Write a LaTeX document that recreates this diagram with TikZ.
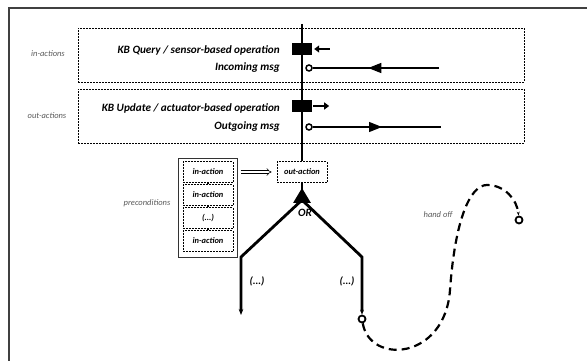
\documentclass[tikz,border=0pt]{standalone}
\usepackage{fontspec}
\setmainfont{Carlito}
\usetikzlibrary{arrows.meta,decorations.markings}

\tikzset{
  frame/.style={draw=black!75, line width=1.5pt},
  lbl/.style={font=\fontsize{11.2}{13}\selectfont\bfseries\itshape, inner sep=0pt},
  side/.style={font=\fontsize{8.5}{10}\selectfont\itshape, text=black!65, inner sep=0pt},
  actbox/.style={draw, dash pattern=on 2pt off 1pt, line width=0.8pt,
    minimum width=446pt, minimum height=54pt, inner sep=0pt},
  smallbox/.style={draw, dash pattern=on 2pt off 1pt, line width=0.8pt,
    minimum width=50pt, minimum height=21pt, inner sep=0pt,
    font=\fontsize{8.4}{10}\selectfont\bfseries\itshape},
  prebox/.style={draw=black!80, line width=1pt, minimum width=59pt,
    minimum height=99pt, inner sep=0pt},
  block/.style={fill, minimum width=20pt, minimum height=12pt, inner sep=0pt},
  tick/.style={line width=2.5pt, >={Triangle[length=5pt,width=7pt]}},
  timeline/.style={line width=2.8pt},
  port/.style={circle, draw, fill=white, line width=1.5pt, minimum size=6pt, inner sep=0pt},
  msg/.style={line width=1.4pt},
  midarrow/.style={postaction={decorate}, decoration={markings,
    mark=at position #1 with {\arrow{Triangle[length=13pt,width=10pt]}}}},
  link/.style={line width=1.2pt},
  implies/.style={double, double distance=2pt, line width=0.6pt, -{Implies}},
  branch/.style={line width=2.8pt},
  handoff/.style={line width=2.2pt, dash pattern=on 8pt off 5pt, -{Stealth[length=4pt]}},
}

\begin{document}
\begin{tikzpicture}[x=1pt, y=-1pt]
\useasboundingbox (0,0) rectangle (587,361);
% frame
\draw[frame] (9,361) -- (9,8) -- (587,8);

% action rows
\node[actbox] (inrow) at (301,55) {};
\node[actbox] (outrow) at (301,116) {};
\node[side] (inlbl) at (48,54) {in-actions};
\node[side] (outlbl) at (47,116) {out-actions};
\node[lbl, anchor=east] (query) at (280,50) {KB Query / sensor-based operation};
\node[lbl, anchor=east] (inmsg) at (280,68) {Incoming msg};
\node[lbl, anchor=east] (update) at (280,108) {KB Update / actuator-based operation};
\node[lbl, anchor=east] (outmsg) at (280,127) {Outgoing msg};

% timeline
\coordinate (ttop) at (302,24);
\node[smallbox] (outact) at (302,172) {out-action};
\draw[timeline] (ttop) -- (outact.north);
\node[block] (qblock) at (302,49) {};
\node[block] (ublock) at (302,106) {};
\draw[tick, <-] ([xshift=2pt]qblock.east) -- ++(16,0);
\draw[tick, ->] ([xshift=1pt]ublock.east) -- ++(16,0);

% messages
\node[port] (inport) at (309,68) {};
\coordinate (inend) at (439,68);
\draw[msg, midarrow=0.56] (inend) -- (inport);
\node[port] (outport) at (309,127) {};
\coordinate (outend) at (441,127);
\draw[msg, midarrow=0.54] (outport) -- (outend);

% preconditions
\node[prebox] (pre) at (207.5,207.5) {};
\node[side] (prelbl) at (147,203) {preconditions};
\node[smallbox] (pre1) at (208,172) {in-action};
\node[smallbox] (pre2) at (208,195) {in-action};
\node[smallbox] (pre3) at (208,218) {(...)};
\node[smallbox] (pre4) at (208,241) {in-action};
\draw[link] (pre1) -- (pre2);
\draw[link] (pre2) -- (pre3);
\draw[link] (pre3) -- (pre4);
\draw[implies, shorten <=3pt, shorten >=5pt] (pre.east |- pre1.east) -- (outact.west);

% OR branches
\coordinate (or) at (302,200);
\coordinate (lturn) at (241,257);
\coordinate (lend) at (241,315);
\coordinate (rturn) at (362,257);
\node[port, minimum size=7pt, line width=1.8pt] (rport) at (362,319) {};
\draw[branch] (outact.south) -- (or);
\draw[branch, -{Triangle[length=15pt,width=17pt]}] (or) -- ([yshift=-5pt]outact.south);
\node[lbl] (orlbl) at (305,213) {OR};
\draw[branch, -{Stealth[length=6pt]}] (or) -- (lturn) -- (lend);
\draw[branch, -{Stealth[length=5pt]}] (or) -- (rturn) -- (rport);
\node[lbl, font=\fontsize{10.5}{12}\selectfont\bfseries\itshape] (ldots) at (257,281) {(...)};
\node[lbl, font=\fontsize{10.5}{12}\selectfont\bfseries\itshape] (rdots) at (347,281) {(...)};

% hand off
\node[port, minimum size=7pt, line width=1.8pt] (hport) at (519,220) {};
\draw[handoff] (rport) .. controls (370,365) and (445,360) .. (450,290)
  .. controls (455,220) and (470,185) .. (487,185)
  .. controls (505,185) and (517,200) .. (hport);
\node[side] (hlbl) at (438,215) {hand off};
\end{tikzpicture}
\end{document}
